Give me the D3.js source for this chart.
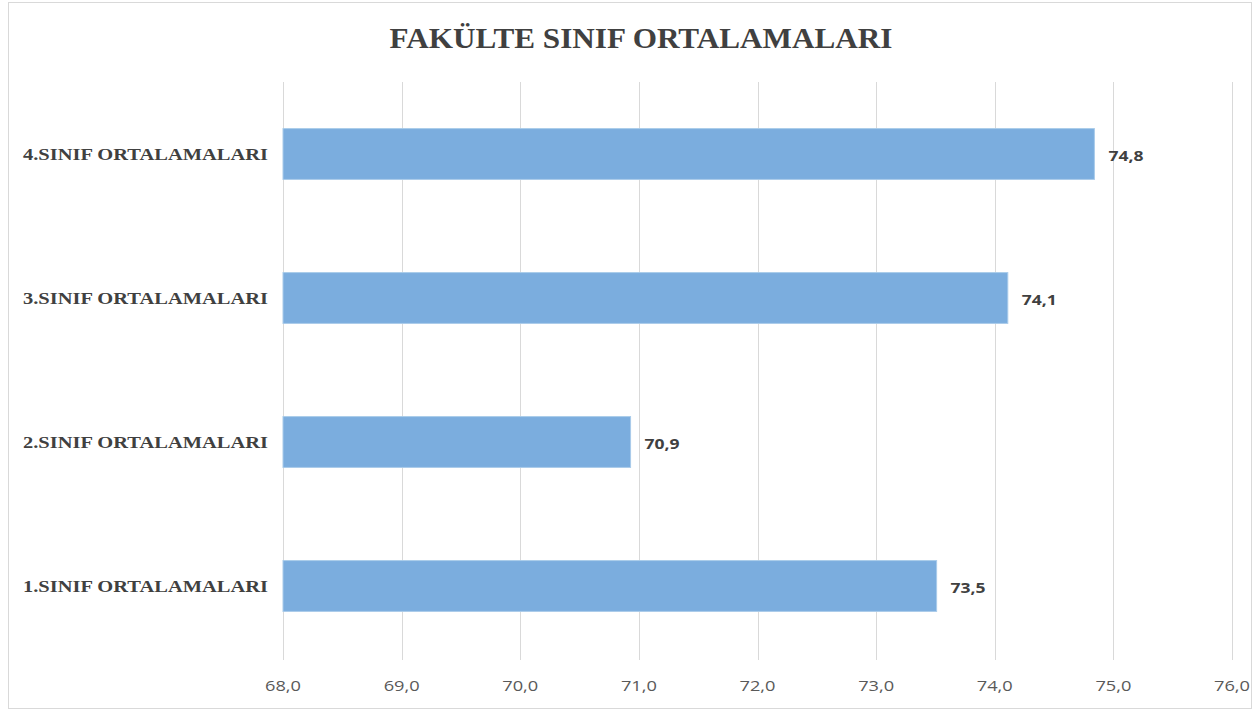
<!DOCTYPE html>
<html lang="tr">
<head>
  <meta charset="UTF-8" />
  <title>Fakülte Sınıf Ortalamaları</title>
  <script src="https://d3js.org/d3.v7.min.js"></script>
  <style>
    body { margin: 0; background: #ffffff; }
    .title { font-family: 'Liberation Serif', serif; font-weight: bold; font-size: 30px; fill: #404040; }
    .cat-label { font-family: 'Liberation Serif', serif; font-weight: bold; font-size: 17px; fill: #404040; }
    .tick-label { font-family: 'Open Sans', sans-serif; font-size: 14px; fill: #595959; }
    .value-label { font-family: 'Open Sans', sans-serif; font-weight: bold; font-size: 15px; fill: #404040; }
  </style>
</head>
<body>
  <div id="chart"></div>
  <script>
    const categories = ["4.SINIF ORTALAMALARI", "3.SINIF ORTALAMALARI", "2.SINIF ORTALAMALARI", "1.SINIF ORTALAMALARI"];
    const values = [74.84, 74.11, 70.93, 73.51];
    const xTicks = [68, 69, 70, 71, 72, 73, 74, 75, 76];
    const chartTitle = "FAKÜLTE SINIF ORTALAMALARI";

    const svgWidth = 1255, svgHeight = 711;
    const plot = { left: 283, right: 1232, top: 82, bottom: 658 };
    const fmt = v => v.toFixed(1).replace(".", ",");

    const svg = d3.select("#chart").append("svg")
      .attr("width", svgWidth)
      .attr("height", svgHeight);

    // chart frame
    svg.append("rect")
      .attr("x", 8.5).attr("y", 2.5)
      .attr("width", 1243).attr("height", 706)
      .attr("fill", "#ffffff")
      .attr("stroke", "#d9d9d9");

    svg.append("text")
      .attr("class", "title")
      .attr("x", 641).attr("y", 48)
      .attr("text-anchor", "middle")
      .attr("textLength", 503)
      .attr("lengthAdjust", "spacingAndGlyphs")
      .text(chartTitle);

    const x = d3.scaleLinear().domain([68, 76]).range([plot.left, plot.right]);
    const y = d3.scaleBand().domain(categories)
      .range([plot.top, plot.bottom])
      .paddingInner(0.647)
      .paddingOuter(0.3235);

    // gridlines
    svg.append("g").selectAll("line")
      .data(xTicks)
      .enter().append("line")
      .attr("x1", d => Math.round(x(d)) + 0.5)
      .attr("x2", d => Math.round(x(d)) + 0.5)
      .attr("y1", plot.top).attr("y2", 660)
      .attr("stroke", "#d9d9d9").attr("stroke-width", 1);

    // x tick labels
    svg.append("g").selectAll("text")
      .data(xTicks)
      .enter().append("text")
      .attr("class", "tick-label")
      .attr("x", d => x(d))
      .attr("y", 686)
      .attr("dy", "0.35em")
      .attr("text-anchor", "middle")
      .attr("textLength", 36)
      .attr("lengthAdjust", "spacingAndGlyphs")
      .text(d => fmt(d));

    // bars
    const rows = categories.map((c, i) => ({ cat: c, value: values[i] }));

    svg.append("g").selectAll("rect")
      .data(rows)
      .enter().append("rect")
      .attr("x", x(68))
      .attr("y", d => y(d.cat))
      .attr("width", d => x(d.value) - x(68))
      .attr("height", y.bandwidth())
      .attr("fill", "#7badde")
      .attr("stroke", "#a9cbea")
      .attr("stroke-width", 1);

    // value labels
    svg.append("g").selectAll("text")
      .data(rows)
      .enter().append("text")
      .attr("class", "value-label")
      .attr("x", d => x(d.value) + 14)
      .attr("y", d => y(d.cat) + y.bandwidth() / 2 + 2)
      .attr("dy", "0.35em")
      .attr("textLength", 35)
      .attr("lengthAdjust", "spacingAndGlyphs")
      .text(d => fmt(d.value));

    // category labels
    svg.append("g").selectAll("text")
      .data(categories)
      .enter().append("text")
      .attr("class", "cat-label")
      .attr("x", 268)
      .attr("y", d => y(d) + y.bandwidth() / 2)
      .attr("dy", "0.35em")
      .attr("text-anchor", "end")
      .attr("textLength", 245)
      .attr("lengthAdjust", "spacingAndGlyphs")
      .text(d => d);
  </script>
</body>
</html>
